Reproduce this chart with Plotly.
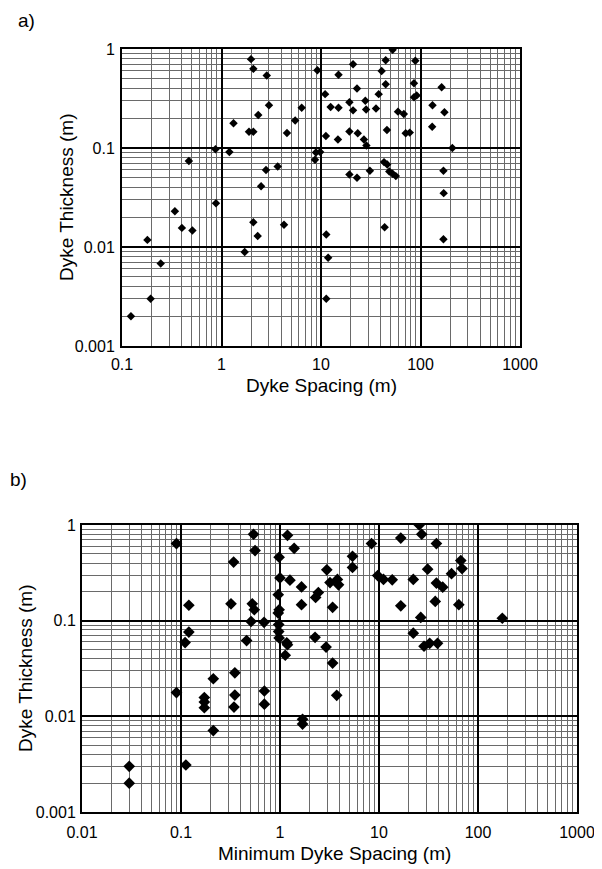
import plotly.graph_objects as go

# ---------------- data ----------------
a_spacing = [1.98, 2.09, 2.85, 3.0, 2.34, 1.32, 1.89, 2.09, 4.55, 5.5, 6.4, 0.87, 1.2, 0.47,
             2.8, 3.67, 2.5, 52.5, 9.2, 21, 15, 44.7, 88.7, 40.7, 44.7, 86, 163, 23, 11, 38,
             86, 91.6, 19.3, 27.9, 12.5, 15, 21, 28.4, 35.7, 59.4, 68, 132, 174, 131, 46, 71,
             78, 11.2, 14.8, 19.3, 23.4, 27, 28.6, 209, 8.9, 9.8, 8.7, 43, 46.3, 48.6, 52.5,
             56.5, 31, 19.3, 23, 170, 171, 0.88, 0.34, 0.40, 0.51, 0.18, 0.245, 0.194, 0.123,
             2.09, 2.31, 4.25, 1.71, 43.6, 11.3, 170, 11.8, 11.3]
a_thickness = [0.79, 0.63, 0.54, 0.27, 0.215, 0.178, 0.146, 0.146, 0.142, 0.19, 0.255, 0.097,
               0.091, 0.074, 0.06, 0.065, 0.041, 0.98, 0.61, 0.70, 0.55, 0.77, 0.76, 0.60, 0.44,
               0.45, 0.41, 0.40, 0.35, 0.35, 0.325, 0.34, 0.29, 0.30, 0.26, 0.255, 0.24, 0.245,
               0.25, 0.233, 0.22, 0.27, 0.23, 0.164, 0.152, 0.141, 0.143, 0.132, 0.122, 0.147,
               0.141, 0.122, 0.106, 0.1, 0.09, 0.091, 0.076, 0.072, 0.068, 0.058, 0.055, 0.052,
               0.059, 0.054, 0.05, 0.059, 0.035, 0.0276, 0.023, 0.0156, 0.0147, 0.0118, 0.0068,
               0.003, 0.002, 0.0178, 0.0129, 0.0168, 0.0089, 0.0158, 0.0134, 0.012, 0.0078, 0.003]

b_spacing = [0.09, 0.54, 0.56, 0.34, 0.12, 0.32, 0.525, 0.55, 0.51, 0.69, 0.12, 0.11, 0.46,
             1.19, 1.39, 0.98, 1.0, 1.26, 1.65, 0.96, 2.44, 2.29, 1.65, 2.97, 3.2, 3.8, 3.9,
             3.4, 5.4, 5.4, 8.4, 9.7, 11.1, 13.6, 16.6, 25.5, 27, 22.2, 31, 16.6, 26.4, 22.2,
             28.5, 0.98, 0.96, 0.97, 0.97, 0.98, 2.26, 1.19, 1.13, 2.92, 3.4, 38, 67, 69, 54,
             38, 44, 37, 64, 176, 32.5, 39, 0.09, 0.212, 0.35, 0.172, 0.172, 0.172, 0.35, 0.343,
             0.695, 0.695, 0.212, 0.03, 0.03, 0.112, 1.69, 1.69, 3.74, 1.17]
b_thickness = [0.64, 0.80, 0.54, 0.41, 0.145, 0.15, 0.15, 0.13, 0.098, 0.096, 0.076, 0.059,
               0.062, 0.78, 0.57, 0.46, 0.28, 0.265, 0.225, 0.187, 0.197, 0.175, 0.147, 0.34,
               0.25, 0.27, 0.237, 0.138, 0.47, 0.36, 0.64, 0.296, 0.27, 0.267, 0.73, 1.0, 0.8,
               0.27, 0.345, 0.143, 0.108, 0.074, 0.054, 0.13, 0.12, 0.091, 0.077, 0.066, 0.067,
               0.056, 0.0435, 0.053, 0.036, 0.64, 0.425, 0.35, 0.31, 0.247, 0.224, 0.159, 0.147,
               0.106, 0.058, 0.058, 0.0177, 0.0247, 0.0285, 0.0157, 0.0141, 0.0123, 0.0167,
               0.0125, 0.0184, 0.0134, 0.0071, 0.003, 0.002, 0.0031, 0.0093, 0.0083, 0.0166,
               0.0586]

a_xtick_vals = [0.1, 1, 10, 100, 1000]
a_xtick_text = ["0.1", "1", "10", "100", "1000"]
b_xtick_vals = [0.01, 0.1, 1, 10, 100, 1000]
b_xtick_text = ["0.01", "0.1", "1", "10", "100", "1000"]
ytick_vals = [0.001, 0.01, 0.1, 1]
ytick_text = ["0.001", "0.01", "0.1", "1"]

a_xtitle = "Dyke Spacing (m)"
b_xtitle = "Minimum Dyke Spacing (m)"
ytitle = "Dyke Thickness (m)"

# ---------------- figure ----------------
W, H = 602, 869
OFF = 8  # page body margin in the browser
FONT = "Arial, Liberation Sans, sans-serif"

fig = go.Figure()
fig.add_trace(go.Scatter(x=a_spacing, y=a_thickness, mode="markers",
                         marker=dict(symbol="diamond", size=6.5, color="black"),
                         xaxis="x", yaxis="y", showlegend=False, hoverinfo="x+y"))
fig.add_trace(go.Scatter(x=b_spacing, y=b_thickness, mode="markers",
                         marker=dict(symbol="diamond", size=9, color="black"),
                         xaxis="x2", yaxis="y2", showlegend=False, hoverinfo="x+y"))


def ax(rng, vals, text, domain, anchor, standoff):
    return dict(type="log", range=rng, domain=domain, anchor=anchor, automargin=False,
                tickmode="array", tickvals=vals, ticktext=text,
                showline=True, mirror=True, linecolor="black", linewidth=2,
                showgrid=True, gridcolor="black", gridwidth=2,
                minor=dict(showgrid=True, gridcolor="#6a6a6a", gridwidth=1, dtick="D1",
                           ticks=""),
                ticks="outside", ticklen=standoff, tickcolor="rgba(0,0,0,0)",
                zeroline=False, tickfont=dict(family=FONT, size=16, color="black"))


def px2fx(p):
    return (p - OFF) / W


def py2fy(p):
    return 1 - (p - OFF) / H


# screen positions: panel a plot box x 122-520, y 49-346 ; panel b x 82-577, y 525-812
fig.update_layout(
    template="none",
    width=W, height=H,
    margin=dict(l=0, r=0, t=0, b=0, pad=0, autoexpand=False),
    paper_bgcolor="white", plot_bgcolor="white",
    font=dict(family=FONT, size=16, color="black"),
    xaxis=ax([-1, 3], a_xtick_vals, a_xtick_text, [px2fx(122), px2fx(520)], "y", 3),
    yaxis=ax([-3, 0], ytick_vals, ytick_text, [py2fy(346), py2fy(49)], "x", 2),
    xaxis2=ax([-2, 3], b_xtick_vals, b_xtick_text, [px2fx(82), px2fx(577)], "y2", 5),
    yaxis2=ax([-3, 0], ytick_vals, ytick_text, [py2fy(812), py2fy(525)], "x2", 1),
)

annos = [
    dict(text="a)", x=px2fx(16), y=py2fy(20), xanchor="left", yanchor="middle",
         font=dict(size=19)),
    dict(text="b)", x=px2fx(8), y=py2fy(480), xanchor="left", yanchor="middle",
         font=dict(size=19)),
    dict(text=a_xtitle, x=px2fx(321), y=py2fy(385), xanchor="center", yanchor="middle",
         font=dict(size=19)),
    dict(text=ytitle, x=px2fx(66), y=py2fy(197), xanchor="center", yanchor="middle",
         textangle=-90, font=dict(size=19)),
    dict(text=b_xtitle, x=px2fx(334), y=py2fy(853), xanchor="center", yanchor="middle",
         font=dict(size=19)),
    dict(text=ytitle, x=px2fx(25), y=py2fy(668), xanchor="center", yanchor="middle",
         textangle=-90, font=dict(size=19)),
]
for a in annos:
    a.update(xref="paper", yref="paper", showarrow=False)
fig.update_layout(annotations=annos)

fig.write_html("out.html")
